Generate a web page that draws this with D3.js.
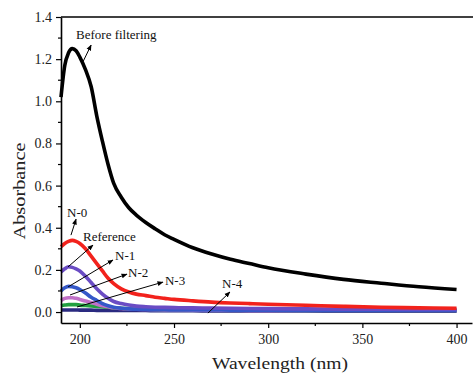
<!DOCTYPE html>
<html>
<head>
<meta charset="utf-8">
<script src="https://cdn.jsdelivr.net/npm/d3@7"></script>
<style>
  body { margin: 0; background: #fff; }
  svg { display: block; }
</style>
</head>
<body>
<svg></svg>
<script>
// wavelengths (nm) shared by every series
var wavelength = [190,192,194,196,198,200,203,206,209,212,215,218,222,226,230,235,240,245,250,260,270,280,290,300,320,340,360,380,400];

var beforeFiltering = [1.02,1.17,1.23,1.25,1.24,1.21,1.15,1.07,0.93,0.81,0.70,0.61,0.545,0.495,0.46,0.425,0.395,0.367,0.345,0.305,0.275,0.25,0.23,0.21,0.18,0.155,0.137,0.12,0.107];
var n0 = [0.31,0.325,0.335,0.34,0.335,0.325,0.30,0.265,0.23,0.195,0.16,0.135,0.11,0.095,0.085,0.078,0.07,0.065,0.06,0.053,0.047,0.043,0.04,0.037,0.032,0.027,0.023,0.02,0.018];
var reference = [0.19,0.205,0.215,0.212,0.205,0.195,0.17,0.14,0.11,0.085,0.065,0.05,0.04,0.033,0.028,0.025,0.023,0.022,0.021,0.02,0.019,0.018,0.017,0.016,0.015,0.014,0.013,0.012,0.012];
var n1 = [0.10,0.115,0.122,0.12,0.115,0.107,0.09,0.07,0.055,0.04,0.03,0.023,0.018,0.015,0.013,0.012,0.011,0.011,0.01,0.01,0.01,0.009,0.009,0.009,0.008,0.008,0.008,0.007,0.007];
var n2 = [0.055,0.065,0.068,0.068,0.065,0.06,0.052,0.045,0.037,0.03,0.025,0.02,0.017,0.015,0.013,0.012,0.011,0.01,0.01,0.009,0.009,0.009,0.008,0.008,0.008,0.008,0.007,0.007,0.007];
var n3 = [0.03,0.033,0.035,0.035,0.035,0.033,0.031,0.029,0.027,0.025,0.023,0.02,0.018,0.016,0.014,0.013,0.012,0.011,0.011,0.01,0.01,0.009,0.009,0.009,0.008,0.008,0.008,0.007,0.007];
var n4 = [0.01,0.01,0.01,0.01,0.01,0.009,0.009,0.009,0.008,0.008,0.008,0.008,0.007,0.007,0.007,0.007,0.006,0.006,0.006,0.006,0.005,0.005,0.005,0.005,0.005,0.004,0.004,0.004,0.004];

var xTicks = [200,250,300,350,400];
var xMinor = [225,275,325,375];
var yTicks = [0.0,0.2,0.4,0.6,0.8,1.0,1.2,1.4];
var yMinor = [0.1,0.3,0.5,0.7,0.9,1.1,1.3];

// annotation labels: text start + arrow (from curve to label), in data units
var noteText = ["Before filtering","N-0","Reference","N-1","N-2","N-3","N-4"];
var noteX = [198,193.2,201.7,218.7,225.6,245.2,275.5];
var noteY = [1.296,0.451,0.337,0.247,0.166,0.128,0.114];
var arrowFrom = [[201.8,1.19],[195.3,0.365],[193.7,0.214],[193.7,0.119],[194.8,0.081],[198.5,0.024],[268,-0.005]];
var arrowTo = [[206,1.267],[198,0.441],[207,0.318],[217.6,0.247],[225,0.18],[244.1,0.142],[279.7,0.095]];

var serif = "'Liberation Serif', 'DejaVu Serif', serif";

var screen = { width: 473, height: 375 };
var margins = { left: 61, top: 17, right: 1, bottom: 52 };

var svg = d3.select("svg")
            .attr("width", screen.width)
            .attr("height", screen.height)
            .attr("font-family", serif);

var xScale = d3.scaleLinear()
               .domain([190, 408.2])
               .range([margins.left, screen.width - margins.right]);

var yScale = d3.scaleLinear()
               .domain([-0.052, 1.4])
               .range([screen.height - margins.bottom, margins.top]);

// series, drawn bottom first
var series = [
  { values: n4, color: "#2a2a80" },
  { values: n3, color: "#22a040" },
  { values: n2, color: "#c070c8" },
  { values: n1, color: "#3558c8" },
  { values: reference, color: "#6a4cc4" },
  { values: n0, color: "#f2221c" },
  { values: beforeFiltering, color: "#000000" }
];

var line = d3.line()
             .x(function(d, i) { return xScale(wavelength[i]); })
             .y(function(d) { return yScale(d); })
             .curve(d3.curveMonotoneX);

svg.selectAll("path.series")
   .data(series)
   .enter()
   .append("path")
   .classed("series", true)
   .attr("d", function(d) { return line(d.values); })
   .attr("fill", "none")
   .attr("stroke", function(d) { return d.color; })
   .attr("stroke-width", 3.6)
   .attr("stroke-linejoin", "round");

//axes
var xAxis = d3.axisBottom(xScale).tickValues(xTicks).tickSize(5).tickSizeOuter(0).tickPadding(6);
var yAxis = d3.axisLeft(yScale).tickValues(yTicks).tickSize(5).tickSizeOuter(0).tickPadding(4).tickFormat(d3.format(".1f"));

var gx = svg.append("g")
   .attr("transform", "translate(0," + (screen.height - margins.bottom) + ")")
   .call(xAxis);
gx.selectAll(".minor")
  .data(xMinor)
  .enter()
  .append("line")
  .attr("x1", function(d) { return xScale(d); })
  .attr("x2", function(d) { return xScale(d); })
  .attr("y1", 0).attr("y2", 3)
  .attr("stroke", "#000").attr("stroke-width", 1.2);

var gy = svg.append("g")
   .attr("transform", "translate(" + margins.left + ",0)")
   .call(yAxis);
gy.selectAll(".minor")
  .data(yMinor)
  .enter()
  .append("line")
  .attr("y1", function(d) { return yScale(d); })
  .attr("y2", function(d) { return yScale(d); })
  .attr("x1", 0).attr("x2", -3)
  .attr("stroke", "#000").attr("stroke-width", 1.2);

svg.selectAll("g").attr("font-family", serif);
svg.selectAll(".domain").attr("stroke-width", 1.6);
svg.selectAll(".tick line").attr("stroke-width", 1.2);
svg.selectAll(".tick text").attr("font-size", 14).attr("fill", "#222");

//top frame line
svg.append("line")
   .attr("x1", margins.left).attr("x2", screen.width)
   .attr("y1", margins.top).attr("y2", margins.top)
   .attr("stroke", "#000").attr("stroke-width", 1.6);

//axis titles (original lettering is a bit wide, so stretch to its length)
svg.append("text")
   .attr("x", 280).attr("y", 369)
   .attr("text-anchor", "middle")
   .attr("font-size", 17)
   .attr("textLength", 136)
   .attr("lengthAdjust", "spacingAndGlyphs")
   .attr("fill", "#222")
   .text("Wavelength (nm)");

svg.append("text")
   .attr("transform", "translate(25,191) rotate(-90)")
   .attr("text-anchor", "middle")
   .attr("font-size", 17)
   .attr("textLength", 97)
   .attr("lengthAdjust", "spacingAndGlyphs")
   .attr("fill", "#222")
   .text("Absorbance");

//arrowhead
svg.append("defs").append("marker")
   .attr("id", "arrow")
   .attr("viewBox", "0 0 10 10")
   .attr("refX", 9).attr("refY", 5)
   .attr("markerWidth", 6).attr("markerHeight", 6)
   .attr("orient", "auto")
   .append("path")
   .attr("d", "M0,1 L10,5 L0,9 Z")
   .attr("fill", "#000");

svg.selectAll("line.note")
   .data(noteText)
   .enter()
   .append("line")
   .classed("note", true)
   .attr("x1", function(d, i) { return xScale(arrowFrom[i][0]); })
   .attr("y1", function(d, i) { return yScale(arrowFrom[i][1]); })
   .attr("x2", function(d, i) { return xScale(arrowTo[i][0]); })
   .attr("y2", function(d, i) { return yScale(arrowTo[i][1]); })
   .attr("stroke", "#000")
   .attr("stroke-width", 1)
   .attr("marker-end", "url(#arrow)");

svg.selectAll("text.note")
   .data(noteText)
   .enter()
   .append("text")
   .classed("note", true)
   .attr("x", function(d, i) { return xScale(noteX[i]); })
   .attr("y", function(d, i) { return yScale(noteY[i]); })
   .attr("font-size", 13)
   .attr("fill", "#111")
   .text(function(d) { return d; });
</script>
</body>
</html>
